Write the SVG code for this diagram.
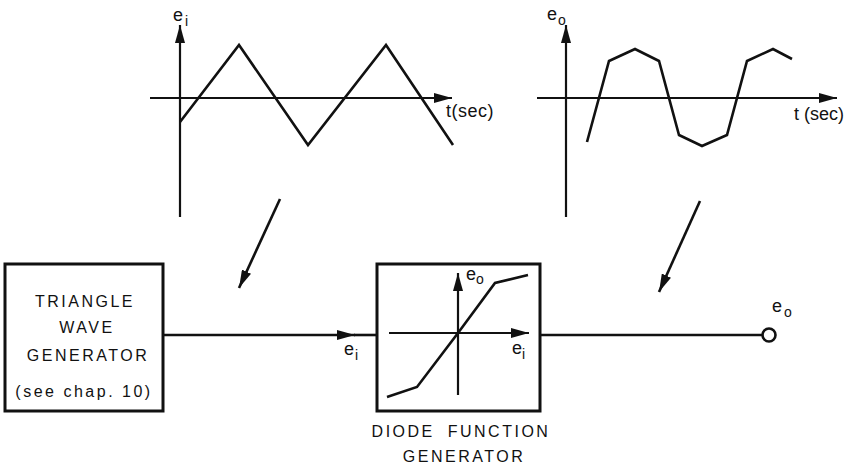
<svg xmlns="http://www.w3.org/2000/svg" width="848" height="471" viewBox="0 0 848 471">
<style>
.ln{fill:none;stroke:#111;stroke-width:2.6;stroke-linejoin:miter}
.ax{fill:none;stroke:#111;stroke-width:2.2}
.box{fill:#fff;stroke:#111;stroke-width:3}
.cap{font-family:"Liberation Sans",Arial,sans-serif;font-size:16px;letter-spacing:2.5px;fill:#111}
.lbl{font-family:"Liberation Sans",Arial,sans-serif;font-size:18px;fill:#111}
.sub{font-size:14px}
</style>
<defs>
<marker id="ah" viewBox="0 0 18 10" refX="18" refY="5" markerWidth="18" markerHeight="10" orient="auto" markerUnits="userSpaceOnUse">
<path d="M0,0 L18,5 L0,10 Z" fill="#111"/>
</marker>
</defs>
<rect width="848" height="471" fill="#fff"/>

<g id="graph-input">
<line class="ax" x1="180" y1="217" x2="180" y2="25" marker-end="url(#ah)"/>
<line class="ax" x1="150" y1="98" x2="452" y2="98" marker-end="url(#ah)"/>
<polyline class="ln" points="180,122 239,45 308,145 386,45 453,145"/>
<text class="lbl" x="173" y="21">e<tspan class="sub" dx="2" dy="5">i</tspan></text>
<text class="lbl" x="446" y="117" letter-spacing="0.5">t(sec)</text>
</g>

<g id="graph-output">
<line class="ax" x1="566" y1="217" x2="566" y2="25" marker-end="url(#ah)"/>
<line class="ax" x1="537" y1="98" x2="837" y2="98" marker-end="url(#ah)"/>
<polyline class="ln" points="587,142 609,61 635,49 659,61 679,135 702,146 727,135 747,61 773,49 792,59"/>
<text class="lbl" x="547" y="20">e<tspan class="sub" dx="1" dy="5">o</tspan></text>
<text class="lbl" x="794" y="120">t (sec)</text>
</g>

<g id="triangle-wave-generator">
<rect class="box" x="5" y="264" width="158" height="147"/>
<text class="cap" x="85" y="307" text-anchor="middle">TRIANGLE</text>
<text class="cap" x="87" y="333" text-anchor="middle">WAVE</text>
<text class="cap" x="88" y="361" text-anchor="middle">GENERATOR</text>
<text class="cap" x="84" y="397" text-anchor="middle" letter-spacing="1.5">(see chap. 10)</text>
</g>

<g id="diode-function-generator">
<rect class="box" x="377" y="264" width="163" height="147"/>
<line class="ax" x1="389" y1="333" x2="529" y2="333" marker-end="url(#ah)"/>
<line class="ax" x1="458" y1="395" x2="458" y2="273" marker-end="url(#ah)"/>
<polyline class="ln" points="387,397 417,387 458,333 495,283 528,275"/>
<text class="lbl" x="466" y="280">e<tspan class="sub" dy="4">o</tspan></text>
<text class="lbl" x="512" y="354">e<tspan class="sub" dy="5">i</tspan></text>
<text class="cap" x="461" y="437" text-anchor="middle" word-spacing="6">DIODE FUNCTION</text>
<text class="cap" x="464" y="462" text-anchor="middle">GENERATOR</text>
</g>

<g id="output-terminal">
<circle cx="769" cy="335" r="6.5" fill="#fff" stroke="#111" stroke-width="2.6"/>
<text class="lbl" x="772" y="312">e<tspan class="sub" dx="2" dy="5">o</tspan></text>
</g>

<g id="connectors">
<line class="ln" x1="163" y1="335" x2="355" y2="335" marker-end="url(#ah)"/>
<line class="ln" x1="354" y1="335" x2="377" y2="335"/>
<text class="lbl" x="344" y="355">e<tspan class="sub" dx="1" dy="5">i</tspan></text>
<line class="ln" x1="540" y1="335" x2="762" y2="335"/>
<line class="ln" x1="280" y1="199" x2="239" y2="288" marker-end="url(#ah)"/>
<line class="ln" x1="700" y1="201" x2="659" y2="292" marker-end="url(#ah)"/>
</g>
</svg>
